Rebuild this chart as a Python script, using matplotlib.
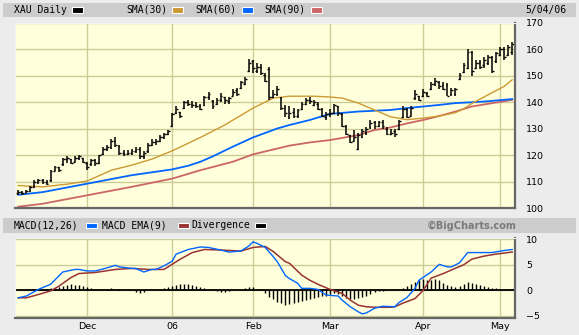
import numpy as np
import pandas as pd
import matplotlib
matplotlib.use('Agg')
import matplotlib.pyplot as plt
from matplotlib.patches import Rectangle

# XAU daily bars, Nov 7 2005 - May 4 2006
holidays = ['2005-11-24', '2005-12-26', '2006-01-02', '2006-01-16', '2006-02-20', '2006-04-14']
dates = pd.bdate_range('2005-11-07', '2006-05-04', freq='C', holidays=holidays)

opens = [105.5, 106, 105.8, 106.5, 108, 110, 110.5, 110, 110.5, 114, 115.5, 116.5, 118.5, 118.5, 117.5,
         119, 119, 117, 116.5, 118, 117, 120.5, 122.5, 123, 125.5, 123.5, 121, 120.5, 121, 121.5,
         122.5, 119.5, 121.5, 124, 125, 125.5, 127, 128, 131, 136, 136.5, 138, 140, 139.5, 139,
         138.5, 139, 142, 140.5, 139.5, 141, 142, 140.5, 142.5, 144.5, 145.5, 147, 152, 155.5, 152,
         153.5, 150.5, 152.5, 142, 143, 141.5, 138, 134.5, 136.5, 135, 137.5, 139.5, 141, 139, 139.5,
         137.5, 134.5, 135.5, 136, 138.5, 135.5, 131, 127.5, 125.5, 122.5, 127, 128.5, 130.5, 132.5, 131,
         132.5, 130, 128, 129, 130, 134.5, 137.5, 135, 141.5, 142.5, 142.5, 143.5, 145, 147, 147.5,
         146.5, 146.5, 143, 143, 149, 151.5, 153, 159, 153, 155, 154, 155, 157, 155.5, 158,
         160, 158, 159]
highs = [107, 106.5, 107, 108.5, 110.5, 111, 111, 110.5, 114.5, 116, 115.5, 119, 119.5, 118.5, 119.5,
         120, 119, 117.5, 118.5, 118.5, 120, 123, 124, 126, 127, 124, 122, 122, 122.5, 123,
         123, 121.5, 124.5, 126, 126, 127.5, 128.5, 129.5, 136, 138.5, 136.5, 140.5, 141, 140.5, 140,
         139.5, 142.5, 144, 141, 141.5, 143.5, 142, 142, 145, 145.5, 148, 149.5, 156.5, 156, 155,
         154.5, 151, 153.5, 144.5, 146, 142, 139, 138.5, 138, 137.5, 140, 141.5, 142, 141, 140,
         138, 136.5, 137.5, 139.5, 138.5, 136, 131.5, 127.5, 129.5, 128.3, 130, 130.5, 133.3, 133, 133,
         133.3, 130.5, 130, 130, 133.3, 138.5, 138, 138.5, 144.5, 142.5, 145, 144, 147.5, 149.2, 148,
         147.5, 147.3, 145.4, 145.5, 151, 155, 160, 159.5, 156, 156, 157, 158, 157.5, 159, 161,
         161, 161.5, 163]
lows = [105, 105, 105.5, 106, 107.5, 109, 109, 108.8, 110, 114, 113.5, 116, 117, 116.5, 117.5,
        118, 117, 114.5, 116, 116, 116.5, 120, 121.5, 122.5, 123, 120, 119.5, 120, 120, 121,
        118.5, 118.5, 121, 123.5, 124, 125, 126, 127.5, 130.5, 135.5, 134, 137.5, 138.5, 138, 138,
        137, 138.5, 141, 137.5, 139, 140, 139.5, 139.5, 142.5, 142.5, 145, 146.5, 151.5, 151, 151,
        150.5, 147.5, 141, 141.5, 142.5, 137, 134.5, 133.5, 134, 134, 137, 139, 139.5, 138.5, 137,
        134.5, 133.3, 134.5, 135.5, 135, 130.8, 127.5, 124.5, 125.5, 121.9, 126.5, 127.5, 130, 130, 130.5,
        130, 127.6, 127.5, 127, 129.5, 134, 134, 135, 141, 140.3, 142, 142, 144.7, 146, 145,
        144.5, 142.2, 142.2, 142.5, 148.5, 151, 152.5, 149.8, 152.5, 152.5, 153, 154, 151, 155, 157.5,
        156, 157.5, 158]
closes = [106, 105.8, 106.5, 108, 110, 110.5, 110, 109, 114, 115.5, 114.5, 118.5, 119, 117, 119,
          119.5, 117.5, 115.5, 118, 117, 120, 122.5, 123, 125.5, 124, 121, 120.5, 121, 121.5, 122.5,
          119.5, 121, 124, 125, 125.5, 127, 128, 129, 135.5, 137.5, 135, 140, 139.5, 139, 138.5,
          137.5, 142, 143, 138.5, 141, 142.5, 141, 141.5, 144, 143, 147.5, 149, 155, 153, 153.5,
          151, 148, 142, 143, 145, 138, 136, 136, 135, 137, 139.5, 141, 140.5, 140, 137.5,
          135, 135.5, 136, 139, 136, 131, 128, 125, 127, 127.5, 129, 130, 132, 131, 132.5,
          131, 128, 128.5, 128, 133, 137.5, 134.5, 138, 143, 141, 144, 142.5, 147, 148, 146,
          145, 142.5, 144.5, 145, 150.5, 154, 159, 152, 155, 153.5, 156, 157, 152, 158.5, 160,
          157, 161, 162]

# moving averages, sampled along the bar index
sma30_idx = [0, 6, 12, 17, 23, 28, 33, 38, 45, 51, 58, 63, 67, 73, 77, 80, 84, 88, 92, 96, 100, 104, 108, 110, 112, 116, 120, 122]
sma30 = [108.5, 108, 109, 110.2, 114.3, 116.2, 118.5, 121.6, 126.7, 131.4, 137.8, 141.6, 142.3, 142.3, 142, 141.6,
         139.7, 137.1, 134.5, 133.4, 134, 134.8, 136.1, 137.5, 139.5, 142.8, 146, 148.5]
sma60_idx = [0, 6, 17, 28, 38, 42, 45, 48, 53, 58, 64, 67, 72, 77, 84, 88, 92, 96, 100, 104, 108, 112, 116, 122]
sma60 = [105, 106, 109.2, 112.4, 114.6, 116, 117.5, 119.5, 123.2, 126.7, 130.1, 131.4, 133.3, 135.6, 136.5,
         136.8, 137.1, 137.8, 138.4, 139, 139.7, 140, 140.4, 141.2]
sma90_idx = [0, 6, 17, 28, 38, 45, 53, 58, 64, 67, 72, 77, 84, 88, 92, 96, 100, 104, 108, 112, 116, 122]
sma90 = [100.5, 101.6, 104.8, 108, 111.1, 114.3, 117.5, 120.3, 122.5, 123.6, 124.8, 125.7, 127.6, 129.5,
         130.5, 132, 133.3, 134.8, 136.5, 138.4, 139.4, 140.9]

# MACD(12,26) and its 9-day EMA, sampled along the bar index
macd_idx = [0, 2, 5, 8, 10, 11, 14, 15, 17, 19, 21, 24, 25, 28, 29, 31, 33, 34, 36, 38, 39, 42, 45, 47, 50,
            52, 55, 57, 58, 59, 61, 63, 64, 66, 67, 69, 70, 72, 74, 76, 79, 80, 82, 84, 85, 86, 88, 90, 93,
            94, 96, 98, 99, 102, 104, 106, 107, 109, 111, 112, 116, 117, 120, 122]
macd = [-1.45, -1.1, 0.2, 1.2, 2.8, 3.6, 4.1, 4.1, 3.8, 3.8, 4.2, 4.9, 4.6, 4.3, 4.3, 3.6, 4.1, 4.1, 4.8, 5.7,
        7.1, 8.0, 8.5, 8.4, 7.9, 7.5, 7.7, 8.7, 9.5, 9.2, 8.4, 6.6, 5.6, 2.9, 2.3, 1.4, 0.4, 0.4, 0.2, -0.9,
        -1.1, -1.9, -3.2, -4.2, -4.6, -4.4, -3.5, -3.1, -3.2, -2.4, -1.4, 0.4, 2.0, 3.6, 5.1, 4.6, 4.6, 5.4,
        7.4, 7.4, 7.4, 7.4, 7.8, 8.0]
signal_idx = [0, 2, 5, 8, 10, 13, 15, 19, 24, 28, 32, 36, 38, 40, 43, 46, 50, 55, 58, 61, 63, 66, 67, 70, 72,
              74, 77, 80, 82, 84, 86, 88, 92, 93, 95, 98, 100, 102, 105, 107, 110, 112, 115, 118, 122]
signal = [-1.45, -1.45, -0.8, -0.1, 0.8, 2.5, 3.3, 3.5, 4.1, 4.3, 4.1, 4.1, 5.1, 6.1, 7.4, 8.0, 7.9, 7.7, 8.4,
          8.6, 7.6, 5.6, 5.3, 3.0, 2.0, 1.2, 0.2, -0.6, -1.9, -2.9, -3.2, -3.3, -3.3, -3.2, -2.5, -1.6, 0.0,
          2.4, 3.3, 4.0, 5.0, 6.1, 6.7, 7.1, 7.5]
divergence = [0.1, 0.1, 0.15, 0.15, 0.2, 0.2, 0.25, 0.3, 0.4, 0.5, 0.7, 0.9, 1.1, 1.2, 1.1, 1.0, 0.8, 0.6, 0.4,
              0.2, 0.2, 0.2, 0.3, 0.4, 0.3, 0.2, 0.1, 0.1, 0.1, -0.3, -0.5, -0.3, 0.1, 0.1, 0.1, 0.2, 0.4,
              0.6, 0.8, 1.0, 1.2, 1.3, 1.2, 1.0, 0.8, 0.6, 0.5, 0.3, 0.1, -0.2, -0.3, -0.3, -0.2, 0.1, 0.1,
              0.1, 0.4, 0.7, 0.6, 0.3, 0.1, -0.5, -1.2, -1.7, -2.2, -2.5, -2.8, -2.6, -2.5, -2.2, -2.0, -1.8,
              -1.6, -1.4, -1.3, -1.1, -1.0, -0.8, -0.6, -0.8, -1.1, -1.4, -1.6, -1.6, -1.4, -1.2, -1.0, -0.7,
              -0.4, -0.2, -0.1, 0.05, 0.05, 0.05, 0.3, 0.5, 0.8, 1.2, 1.6, 2.0, 2.2, 2.0, 2.1, 2.2, 2.0, 1.5,
              1.1, 0.8, 0.6, 0.9, 1.3, 1.6, 1.4, 1.2, 1.0, 0.8, 0.7, 0.5, 0.4, 0.3, 0.3, 0.2, 0.3]

price_ticks = [100, 110, 120, 130, 140, 150, 160, 170]
macd_ticks = [-5, 0, 5, 10]
month_labels = ['Dec', '06', 'Feb', 'Mar', 'Apr', 'May']

W, H = 579, 335
BG = '#ECECEC'
BAND = '#CCCCCC'
PANEL = '#FFFFDC'
GRID = '#CCCC99'
GOLD = '#CC9933'
BLUE = '#0066FF'
RED = '#CC6666'
MAROON = '#993333'

x = np.arange(len(dates))
month_pos = [i for i in range(1, len(dates)) if dates[i].month != dates[i - 1].month]

fig = plt.figure(figsize=(W / 100, H / 100), dpi=100, facecolor=BG)


def fx(px):
    return px / W


def fy(py):
    return 1 - py / H


# header bands
for top, bot in [(3, 17), (218, 233)]:
    fig.patches.append(Rectangle((fx(3), fy(bot)), fx(573), (bot - top) / H,
                                 transform=fig.transFigure, facecolor=BAND, edgecolor='none', zorder=0))


def panel(top, bot):
    ax = fig.add_axes([fx(15), fy(bot), fx(500), (bot - top) / H])
    ax.set_facecolor(PANEL)
    for s in ['top', 'left']:
        ax.spines[s].set_color('#F4F4F4')
    for s in ['bottom', 'right']:
        ax.spines[s].set_color('#666666')
        ax.spines[s].set_linewidth(1.6)
    ax.set_xlim(-0.8, 122.7)
    ax.set_xticks(month_pos)
    ax.grid(True, color=GRID, lw=1)
    ax.set_axisbelow(True)
    ax.tick_params(length=0, labelsize=6.8, colors='black', pad=3)
    ax.yaxis.tick_right()
    return ax


# price panel
ax = panel(23, 208)
ax.set_ylim(100, 170)
ax.set_yticks(price_ticks)
ax.set_xticklabels([])
ax.tick_params(axis='y', pad=8)
ax.plot(sma90_idx, sma90, color=RED, lw=1.3)
ax.plot(sma60_idx, sma60, color=BLUE, lw=1.3)
ax.plot(sma30_idx, sma30, color=GOLD, lw=1.0)
ax.vlines(x, lows, highs, color='black', lw=1.1)
ax.hlines(opens, x - 0.45, x, color='black', lw=1.0)
ax.hlines(closes, x, x + 0.45, color='black', lw=1.0)

# MACD panel
ax2 = panel(238, 318)
ax2.set_ylim(-5.4, 10.25)
ax2.set_yticks(macd_ticks)
ax2.set_xticklabels(month_labels)
ax2.tick_params(axis='y', pad=8)
ax2.vlines(x, 0, divergence, color='black', lw=1.0)
ax2.axhline(0, color='black', lw=1.3)
ax2.plot(signal_idx, signal, color=MAROON, lw=1.1)
ax2.plot(macd_idx, macd, color=BLUE, lw=1.0)

# legend strips
mono = dict(family='DejaVu Sans Mono', fontsize=7, va='center', color='black')


def swatch(px, py, color):
    fig.patches.append(Rectangle((fx(px), fy(py + 2.5)), fx(11), 5 / H,
                                 transform=fig.transFigure, facecolor=color,
                                 edgecolor='white', lw=0.8, zorder=3))


fig.text(fx(14), fy(10), 'XAU Daily', **mono)
swatch(72, 10, 'black')
fig.text(fx(126), fy(10), 'SMA(30)', **mono)
swatch(172, 10, GOLD)
fig.text(fx(195), fy(10), 'SMA(60)', **mono)
swatch(242, 10, BLUE)
fig.text(fx(264), fy(10), 'SMA(90)', **mono)
swatch(311, 10, RED)
fig.text(fx(566), fy(10), '5/04/06', ha='right', **mono)

fig.text(fx(14), fy(225.5), 'MACD(12,26)', **mono)
swatch(86, 225.5, BLUE)
fig.text(fx(102), fy(225.5), 'MACD EMA(9)', **mono)
swatch(178, 225.5, MAROON)
fig.text(fx(191), fy(225.5), 'Divergence', **mono)
swatch(255, 225.5, 'black')
fig.text(fx(516), fy(225.5), '\u00a9BigCharts.com', ha='right', va='center',
         fontsize=7, fontweight='bold', color='#7A7A7A')

fig.savefig('out.png', dpi=100, facecolor=BG)
